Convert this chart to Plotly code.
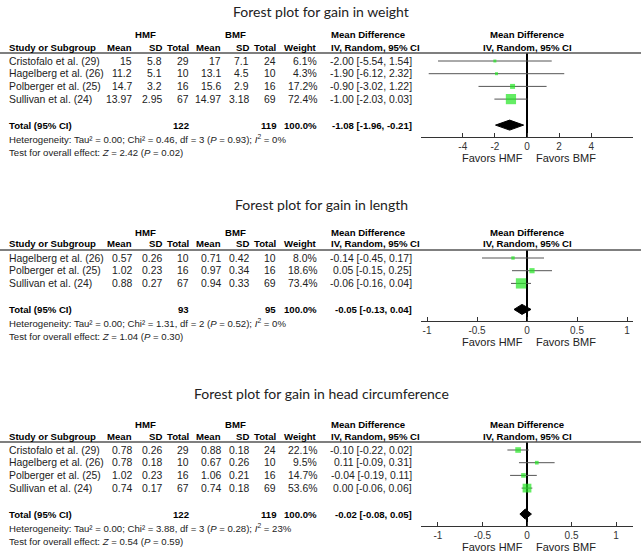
import math
import plotly.graph_objects as go

W, H = 643, 552

# ---------- gain in weight ----------
w_studies = ["Cristofalo et al. (29)", "Hagelberg et al. (26)", "Polberger et al. (25)", "Sullivan et al. (24)"]
w_hmf_mean = [15, 11.2, 14.7, 13.97]
w_hmf_sd = [5.8, 5.1, 3.2, 2.95]
w_hmf_n = [29, 10, 16, 67]
w_bmf_mean = [17, 13.1, 15.6, 14.97]
w_bmf_sd = [7.1, 4.5, 2.9, 3.18]
w_bmf_n = [24, 10, 16, 69]
w_weight = [6.1, 4.3, 17.2, 72.4]
w_md = [-2.00, -1.90, -0.90, -1.00]
w_lo = [-5.54, -6.12, -3.02, -2.03]
w_hi = [1.54, 2.32, 1.22, 0.03]
w_pooled = [-1.08, -1.96, -0.21]
w_het = ["0.00", "0.46", "3", "0.93", "0"]
w_z = ["2.42", "0.02"]
w_ticks = [-4, -2, 0, 2, 4]

# ---------- gain in length ----------
l_studies = ["Hagelberg et al. (26)", "Polberger et al. (25)", "Sullivan et al. (24)"]
l_hmf_mean = [0.57, 1.02, 0.88]
l_hmf_sd = [0.26, 0.23, 0.27]
l_hmf_n = [10, 16, 67]
l_bmf_mean = [0.71, 0.97, 0.94]
l_bmf_sd = [0.42, 0.34, 0.33]
l_bmf_n = [10, 16, 69]
l_weight = [8.0, 18.6, 73.4]
l_md = [-0.14, 0.05, -0.06]
l_lo = [-0.45, -0.15, -0.16]
l_hi = [0.17, 0.25, 0.04]
l_pooled = [-0.05, -0.13, 0.04]
l_het = ["0.00", "1.31", "2", "0.52", "0"]
l_z = ["1.04", "0.30"]
l_ticks = [-1, -0.5, 0, 0.5, 1]

# ---------- gain in head circumference ----------
h_studies = ["Cristofalo et al. (29)", "Hagelberg et al. (26)", "Polberger et al. (25)", "Sullivan et al. (24)"]
h_hmf_mean = [0.78, 0.78, 1.02, 0.74]
h_hmf_sd = [0.26, 0.18, 0.23, 0.17]
h_hmf_n = [29, 10, 16, 67]
h_bmf_mean = [0.88, 0.67, 1.06, 0.74]
h_bmf_sd = [0.18, 0.26, 0.21, 0.18]
h_bmf_n = [24, 10, 16, 69]
h_weight = [22.1, 9.5, 14.7, 53.6]
h_md = [-0.10, 0.11, -0.04, 0.00]
h_lo = [-0.22, -0.09, -0.19, -0.06]
h_hi = [0.02, 0.31, 0.11, 0.06]
h_pooled = [-0.02, -0.08, 0.05]
h_het = ["0.00", "3.88", "3", "0.28", "23"]
h_z = ["0.54", "0.59"]
h_ticks = [-1, -0.5, 0, 0.5, 1]

panels = [
    dict(title="Forest plot for gain in weight", studies=w_studies,
         cols=[w_hmf_mean, w_hmf_sd, w_hmf_n, w_bmf_mean, w_bmf_sd, w_bmf_n],
         weight=w_weight, md=w_md, lo=w_lo, hi=w_hi, pooled=w_pooled,
         het=w_het, z=w_z, ticks=w_ticks,
         title_y=12, top=35, rng=6.6),
    dict(title="Forest plot for gain in length", studies=l_studies,
         cols=[l_hmf_mean, l_hmf_sd, l_hmf_n, l_bmf_mean, l_bmf_sd, l_bmf_n],
         weight=l_weight, md=l_md, lo=l_lo, hi=l_hi, pooled=l_pooled,
         het=l_het, z=l_z, ticks=l_ticks,
         title_y=204, top=232, rng=1.06),
    dict(title="Forest plot for gain in head circumference", studies=h_studies,
         cols=[h_hmf_mean, h_hmf_sd, h_hmf_n, h_bmf_mean, h_bmf_sd, h_bmf_n],
         weight=h_weight, md=h_md, lo=h_lo, hi=h_hi, pooled=h_pooled,
         het=h_het, z=h_z, ticks=h_ticks,
         title_y=393, top=424, rng=1.19),
]

# column right edges (px) for Mean, SD, Total, Mean, SD, Total, Weight
col_x = [133, 163, 190, 222, 250, 277, 318]
ci_x = 413
plot_left, plot_right, plot_mid = 421, 633, 527
row_h = 12.7
GREEN = "#22e622"
TXT = "#222222"
BOLD = 9.6
BODY = 10.4

annotations = []
shapes = []


def px_x(x):
    return x / W


def px_y(y):
    return 1 - y / H


def text(x, y, s, anchor="left", size=BODY, color=TXT, family="Arial"):
    annotations.append(dict(
        x=px_x(x), y=px_y(y), xref="paper", yref="paper", text=s,
        showarrow=False, xanchor=anchor, yanchor="middle", borderpad=0,
        font=dict(family=family, size=size, color=color),
    ))


fig = go.Figure()

for k, p in enumerate(panels):
    ax = "" if k == 0 else str(k + 1)
    top = p["top"]
    h2 = top + 12
    rule = top + 18
    rows = [top + 26 + row_h * i for i in range(len(p["studies"]))]
    total_y = rows[-1] + 26
    axis_y = total_y + 12

    text(321, p["title_y"], p["title"], anchor="center", size=14, family="Lato")

    # header rows
    text(145, top, "<b>HMF</b>", anchor="center", size=BOLD, color="#000")
    text(235, top, "<b>BMF</b>", anchor="center", size=BOLD, color="#000")
    text(330, top, "<b>Mean Difference</b>", size=BOLD, color="#000")
    text(plot_mid, top, "<b>Mean Difference</b>", anchor="center", size=BOLD, color="#000")
    text(8, h2, "<b>Study or Subgroup</b>", size=BOLD, color="#000")
    for cx, lab in zip(col_x, ["Mean", "SD", "Total", "Mean", "SD", "Total", "Weight"]):
        text(cx, h2, f"<b>{lab}</b>", anchor="right", size=BOLD, color="#000")
    text(330, h2, "<b>IV, Random, 95% CI</b>", size=BOLD, color="#000")
    text(plot_mid, h2, "<b>IV, Random, 95% CI</b>", anchor="center", size=BOLD, color="#000")
    shapes.append(dict(type="line", xref="paper", yref="paper",
                       x0=0, x1=px_x(641), y0=px_y(rule), y1=px_y(rule),
                       line=dict(color="#555", width=1.3)))

    # study rows
    for i, y in enumerate(rows):
        text(8, y, p["studies"][i])
        for cx, col in zip(col_x[:6], p["cols"]):
            text(cx, y, str(col[i]), anchor="right")
        text(col_x[6], y, f"{p['weight'][i]:.1f}%", anchor="right")
        text(ci_x, y, f"{p['md'][i]:.2f} [{p['lo'][i]:.2f}, {p['hi'][i]:.2f}]", anchor="right")

    # total row
    est, plo, phi = p["pooled"]
    text(8, total_y, "<b>Total (95% CI)</b>", size=BOLD, color="#000")
    text(col_x[2], total_y, f"<b>{sum(p['cols'][2])}</b>", anchor="right", size=BOLD, color="#000")
    text(col_x[5], total_y, f"<b>{sum(p['cols'][5])}</b>", anchor="right", size=BOLD, color="#000")
    text(col_x[6], total_y, "<b>100.0%</b>", anchor="right", size=BOLD, color="#000")
    text(ci_x, total_y, f"<b>{est:.2f} [{plo:.2f}, {phi:.2f}]</b>", anchor="right", size=BOLD, color="#000")
    tau, chi, df, pv, i2 = p["het"]
    text(8, total_y + 13.5,
         f"Heterogeneity: Tau² = {tau}; Chi² = {chi}, df = {df} (<i>P</i> = {pv}); <i>I</i><sup>2</sup> = {i2}%",
         size=9.6)
    text(8, total_y + 27,
         f"Test for overall effect: <i>Z</i> = {p['z'][0]} (<i>P</i> = {p['z'][1]})", size=9.6)
    text(524, axis_y + 21, "Favors HMF", anchor="right", size=11)
    text(535, axis_y + 21, "Favors BMF", anchor="left", size=11)

    # CI lines
    xs, ys = [], []
    for lo, hi, y in zip(p["lo"], p["hi"], rows):
        xs += [lo, hi, None]
        ys += [y, y, None]
    fig.add_trace(go.Scatter(x=xs, y=ys, mode="lines", xaxis="x" + ax, yaxis="y" + ax,
                             line=dict(color="#555", width=1), hoverinfo="skip",
                             showlegend=False))
    # study squares
    fig.add_trace(go.Scatter(
        x=p["md"], y=rows, mode="markers", xaxis="x" + ax, yaxis="y" + ax,
        marker=dict(symbol="square", color=GREEN,
                    size=[max(3, 1.2 * math.sqrt(w)) for w in p["weight"]],
                    line=dict(width=0)),
        cliponaxis=False, showlegend=False))
    # pooled diamond
    fig.add_trace(go.Scatter(
        x=[plo, est, phi, est, plo], y=[total_y, total_y - 5, total_y, total_y + 5, total_y],
        mode="lines", fill="toself", fillcolor="#000", line=dict(color="#000", width=1),
        xaxis="x" + ax, yaxis="y" + ax, showlegend=False, hoverinfo="skip"))

    fig.update_layout({
        "xaxis" + ax: dict(
            domain=[px_x(plot_left), px_x(plot_right)], range=[-p["rng"], p["rng"]],
            anchor="y" + ax, showgrid=False, showline=True, linecolor="#333", linewidth=1,
            ticks="inside", ticklen=4, tickcolor="#333", tickvals=p["ticks"],
            ticktext=[f"{t:g}" for t in p["ticks"]],
            tickfont=dict(family="Arial", size=10, color="#333"),
            zeroline=True, zerolinecolor="#000", zerolinewidth=1.5, fixedrange=True),
        "yaxis" + ax: dict(
            domain=[px_y(axis_y), px_y(rule)], range=[axis_y, rule],
            anchor="x" + ax, visible=False, fixedrange=True),
    })

fig.update_layout(
    width=W, height=H,
    margin=dict(l=0, r=0, t=0, b=0),
    plot_bgcolor="white", paper_bgcolor="white",
    annotations=annotations, shapes=shapes,
    showlegend=False,
)

# drop the default page margin so the figure fills the window exactly
fig.write_html("out.html", config={"displayModeBar": False},
               post_script="document.body.style.margin = '0';")
